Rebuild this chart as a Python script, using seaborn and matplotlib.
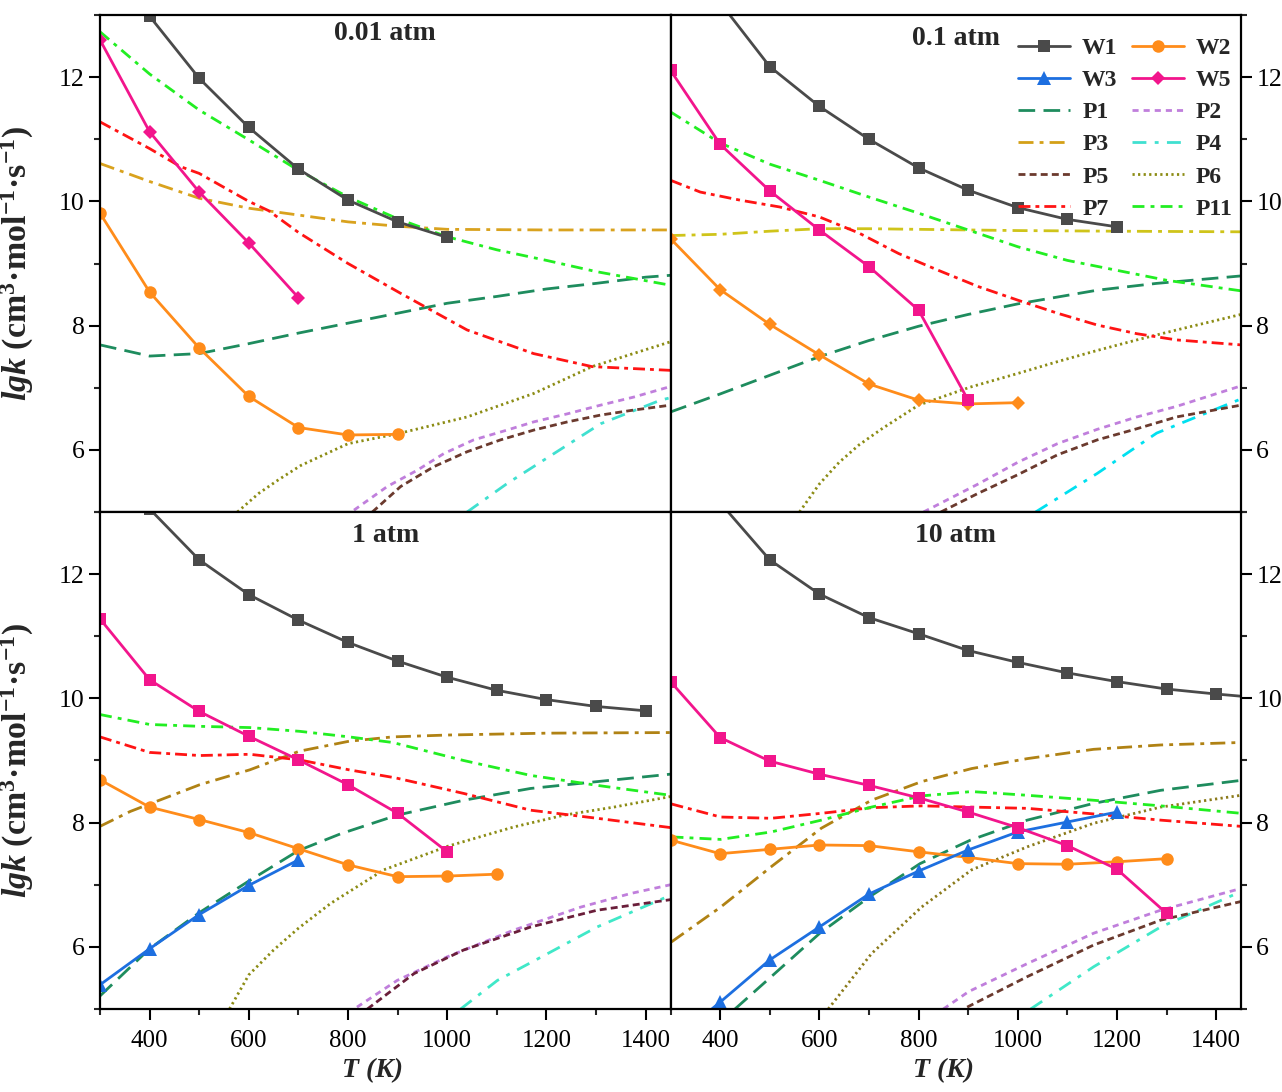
import matplotlib
matplotlib.use("Agg")
import matplotlib.pyplot as plt
import seaborn as sns
from matplotlib.lines import Line2D
from matplotlib.ticker import MultipleLocator

# ---------------- data: panel a (0.01 atm) ----------------
T_W1_a = [400, 500, 600, 700, 800, 900, 1000]
W1_a = [12.98, 11.98, 11.19, 10.52, 10.02, 9.67, 9.42]
T_W2_a = [300, 400, 500, 600, 700, 800, 900]
W2_a = [9.81, 8.54, 7.64, 6.86, 6.36, 6.24, 6.25]
T_W5_a = [300, 400, 500, 600, 700]
W5_a = [12.60, 11.12, 10.15, 9.33, 8.45]
T_P1_a = [300, 400, 500, 600, 700, 800, 900, 1000, 1100, 1200, 1300, 1400, 1450]
P1_a = [7.69, 7.51, 7.55, 7.71, 7.88, 8.04, 8.20, 8.36, 8.47, 8.59, 8.68, 8.78, 8.81]
T_P2_a = [812, 879, 939, 993, 1053, 1121, 1174, 1242, 1309, 1376, 1450]
P2_a = [5.03, 5.41, 5.67, 5.94, 6.16, 6.32, 6.45, 6.58, 6.72, 6.85, 7.02]
T_P3_a = [300, 400, 500, 600, 700, 800, 900, 1000, 1200, 1450]
P3_a = [10.61, 10.32, 10.05, 9.89, 9.78, 9.67, 9.60, 9.55, 9.54, 9.54]
T_P4_a = [1040, 1121, 1215, 1309, 1430, 1450]
P4_a = [5.0, 5.46, 5.94, 6.42, 6.80, 6.84]
T_P5_a = [849, 906, 973, 1040, 1107, 1175, 1242, 1309, 1375, 1450]
P5_a = [5.0, 5.41, 5.73, 5.97, 6.16, 6.32, 6.45, 6.56, 6.64, 6.72]
T_P6_a = [577, 620, 660, 705, 800, 900, 1040, 1175, 1292, 1450]
P6_a = [5.0, 5.3, 5.52, 5.75, 6.1, 6.26, 6.53, 6.91, 7.34, 7.74]
T_P7_a = [300, 400, 462, 500, 600, 640, 700, 800, 906, 1040, 1174, 1292, 1450]
P7_a = [11.28, 10.85, 10.56, 10.45, 10.0, 9.85, 9.5, 9.0, 8.52, 7.93, 7.55, 7.34, 7.28]
T_P11_a = [300, 400, 500, 600, 700, 800, 900, 1000, 1100, 1200, 1300, 1450]
P11_a = [12.73, 12.05, 11.47, 10.99, 10.5, 10.07, 9.72, 9.43, 9.22, 9.05, 8.87, 8.65]

# ---------------- data: panel b (0.1 atm) ----------------
T_W1_b = [400, 500, 600, 700, 800, 900, 1000, 1100, 1200]
W1_b = [13.2, 12.17, 11.53, 11.0, 10.54, 10.18, 9.90, 9.71, 9.59]
T_W2_b = [300, 400, 500, 600, 700, 800, 900, 1000]
W2_b = [9.40, 8.58, 8.02, 7.53, 7.06, 6.80, 6.74, 6.76]
T_W5_b = [300, 400, 500, 600, 700, 800, 900]
W5_b = [12.11, 10.92, 10.17, 9.54, 8.95, 8.25, 6.80]
T_P1_b = [300, 400, 500, 600, 700, 800, 900, 1000, 1160, 1280, 1450]
P1_b = [6.61, 6.90, 7.20, 7.50, 7.76, 7.99, 8.18, 8.35, 8.57, 8.68, 8.80]
T_P2_b = [810, 920, 1000, 1080, 1160, 1240, 1320, 1450]
P2_b = [5.0, 5.45, 5.8, 6.1, 6.33, 6.53, 6.7, 7.03]
T_P3_b = [300, 400, 500, 600, 700, 800, 1000, 1200, 1450]
P3_b = [9.45, 9.47, 9.52, 9.56, 9.56, 9.55, 9.53, 9.52, 9.51]
T_P4_b = [1036, 1160, 1280, 1450]
P4_b = [5.0, 5.62, 6.27, 6.82]
T_P5_b = [845, 920, 1000, 1080, 1160, 1240, 1320, 1450]
P5_b = [5.0, 5.3, 5.6, 5.92, 6.16, 6.34, 6.53, 6.72]
T_P6_b = [560, 600, 640, 680, 728, 800, 904, 1000, 1080, 1160, 1240, 1320, 1450]
P6_b = [5.0, 5.45, 5.8, 6.08, 6.35, 6.72, 7.01, 7.23, 7.42, 7.6, 7.77, 7.93, 8.18]
T_P7_b = [300, 360, 440, 520, 600, 680, 760, 840, 920, 1000, 1080, 1160, 1240, 1320, 1450]
P7_b = [10.34, 10.15, 10.02, 9.91, 9.75, 9.49, 9.16, 8.89, 8.63, 8.41, 8.20, 8.01, 7.87, 7.77, 7.69]
T_P11_b = [300, 400, 500, 600, 700, 800, 900, 1000, 1100, 1200, 1300, 1450]
P11_b = [11.44, 10.94, 10.6, 10.34, 10.07, 9.81, 9.54, 9.27, 9.05, 8.89, 8.73, 8.56]

# ---------------- data: panel c (1 atm) ----------------
T_W1_c = [400, 500, 600, 700, 800, 900, 1000, 1100, 1200, 1300, 1400]
W1_c = [13.05, 12.23, 11.67, 11.26, 10.90, 10.60, 10.34, 10.13, 9.98, 9.87, 9.80]
T_W2_c = [300, 400, 500, 600, 700, 800, 900, 1000, 1100]
W2_c = [8.69, 8.25, 8.05, 7.84, 7.58, 7.32, 7.13, 7.14, 7.17]
T_W3_c = [300, 400, 500, 600, 700]
W3_c = [5.39, 5.97, 6.52, 6.99, 7.40]
T_W5_c = [300, 400, 500, 600, 700, 800, 900, 1000]
W5_c = [11.28, 10.30, 9.79, 9.39, 9.01, 8.61, 8.15, 7.53]
T_P1_c = [300, 400, 500, 600, 700, 785, 899, 1033, 1168, 1302, 1450]
P1_c = [5.21, 5.97, 6.55, 7.06, 7.55, 7.82, 8.12, 8.36, 8.55, 8.66, 8.78]
T_P2_c = [818, 899, 1000, 1134, 1269, 1370, 1450]
P2_c = [5.03, 5.46, 5.84, 6.27, 6.64, 6.86, 7.0]
T_P3_c = [300, 361, 400, 501, 602, 702, 802, 890, 1000, 1200, 1450]
P3_c = [7.94, 8.18, 8.30, 8.61, 8.85, 9.15, 9.31, 9.38, 9.41, 9.44, 9.45]
T_P4_c = [1027, 1101, 1202, 1302, 1450]
P4_c = [5.0, 5.46, 5.89, 6.32, 6.83]
T_P5_c = [839, 933, 1033, 1168, 1302, 1450]
P5_c = [5.0, 5.57, 5.95, 6.32, 6.59, 6.76]
T_P6_c = [561, 600, 650, 700, 765, 872, 1001, 1134, 1235, 1336, 1450]
P6_c = [5.0, 5.55, 5.95, 6.3, 6.70, 7.24, 7.62, 7.93, 8.12, 8.25, 8.42]
T_P7_c = [300, 400, 501, 602, 702, 802, 896, 1033, 1168, 1302, 1450]
P7_c = [9.38, 9.13, 9.08, 9.10, 9.01, 8.85, 8.72, 8.47, 8.20, 8.07, 7.92]
T_P11_c = [300, 400, 501, 602, 702, 802, 890, 1033, 1168, 1302, 1450]
P11_c = [9.74, 9.58, 9.55, 9.53, 9.47, 9.38, 9.29, 9.0, 8.76, 8.60, 8.44]

# ---------------- data: panel d (10 atm) ----------------
T_W1_d = [400, 500, 600, 700, 800, 900, 1000, 1100, 1200, 1300, 1400, 1500]
W1_d = [13.15, 12.23, 11.68, 11.30, 11.04, 10.77, 10.58, 10.41, 10.27, 10.15, 10.07, 10.0]
T_W2_d = [300, 400, 500, 600, 700, 800, 900, 1000, 1100, 1200, 1300]
W2_d = [7.72, 7.50, 7.57, 7.64, 7.63, 7.53, 7.44, 7.34, 7.33, 7.37, 7.42]
T_W3_d = [300, 400, 500, 600, 700, 800, 900, 1000, 1100, 1200]
W3_d = [4.45, 5.11, 5.79, 6.32, 6.85, 7.22, 7.56, 7.85, 8.01, 8.17]
T_W5_d = [300, 400, 500, 600, 700, 800, 900, 1000, 1100, 1200, 1300]
W5_d = [10.27, 9.37, 8.99, 8.78, 8.60, 8.40, 8.17, 7.92, 7.63, 7.25, 6.54]
T_P1_d = [430, 503, 601, 702, 803, 905, 1019, 1153, 1288, 1450]
P1_d = [5.0, 5.52, 6.22, 6.81, 7.34, 7.72, 8.04, 8.31, 8.52, 8.68]
T_P2_d = [850, 901, 1019, 1153, 1288, 1450]
P2_d = [5.0, 5.28, 5.73, 6.22, 6.59, 6.94]
T_P3_d = [302, 401, 503, 604, 705, 806, 907, 1019, 1153, 1288, 1450]
P3_d = [6.08, 6.64, 7.29, 7.91, 8.36, 8.66, 8.87, 9.03, 9.18, 9.25, 9.29]
T_P4_d = [1026, 1153, 1288, 1450]
P4_d = [5.0, 5.68, 6.32, 6.89]
T_P5_d = [898, 1019, 1153, 1288, 1450]
P5_d = [5.03, 5.52, 6.03, 6.43, 6.73]
T_P6_d = [618, 705, 806, 907, 1019, 1153, 1288, 1450]
P6_d = [5.0, 5.89, 6.64, 7.24, 7.61, 7.99, 8.25, 8.44]
T_P7_d = [302, 401, 503, 604, 705, 806, 907, 1019, 1153, 1288, 1450]
P7_d = [8.30, 8.09, 8.07, 8.15, 8.24, 8.27, 8.25, 8.23, 8.14, 8.04, 7.94]
T_P11_d = [302, 401, 503, 604, 705, 806, 907, 1019, 1153, 1288, 1450]
P11_d = [7.77, 7.73, 7.85, 8.04, 8.25, 8.43, 8.50, 8.44, 8.36, 8.27, 8.15]

panel_titles = ["0.01 atm", "0.1 atm", "1 atm", "10 atm"]
legend_labels = ["W1", "W3", "P1", "P3", "P5", "P7", "W2", "W5", "P2", "P4", "P6", "P11"]

# ---------------- style ----------------
sns.set_theme(style="ticks")
plt.rcParams['font.family'] = ['Liberation Serif', 'DejaVu Serif']
plt.rcParams['mathtext.fontset'] = 'custom'
plt.rcParams['mathtext.rm'] = 'Liberation Serif:bold'
plt.rcParams['mathtext.it'] = 'Liberation Serif:italic:bold'
plt.rcParams['mathtext.bf'] = 'Liberation Serif:bold'

C_W1, C_W2, C_W3, C_W5 = "#4a4a4a", "#ff8c1a", "#1d6fe0", "#f2158c"
C_P1, C_P2, C_P7, C_P11 = "#1e8c5e", "#c07fdc", "#ff1414", "#22ee22"
LS = {
    "P1": (0, (6, 3)),
    "P2": (0, (2.2, 1.8)),
    "P3": (0, (5.4, 2.2, 1.4, 2.2)),
    "P4": (0, (5, 3, 1.4, 3)),
    "P5": (0, (2.5, 1.5)),
    "P6": (0, (0.8, 1.2)),
    "P7": (0, (4.3, 1.8, 1.4, 1.8)),
    "P11": (0, (4.3, 2.2, 1.4, 2.2)),
}
LW = 2.0

fig = plt.figure(figsize=(12.82, 10.92), dpi=100)
axes = fig.subplots(2, 2, sharex=True, sharey=True)
fig.subplots_adjust(left=100 / 1282, right=1241 / 1282, top=1 - 15 / 1092,
                    bottom=1 - 1009 / 1092, wspace=0, hspace=0)


def line(ax, x, y, color, ls="-", marker=None, ms=8):
    sns.lineplot(x=x, y=y, ax=ax, color=color, linewidth=LW, linestyle=ls,
                 marker=marker, markersize=ms, markeredgewidth=0,
                 markeredgecolor=color, estimator=None, errorbar=None,
                 legend=False)


panels = [
    dict(P=[(T_P1_a, P1_a), (T_P2_a, P2_a), (T_P3_a, P3_a), (T_P4_a, P4_a),
            (T_P5_a, P5_a), (T_P6_a, P6_a), (T_P7_a, P7_a), (T_P11_a, P11_a)],
         cols=[C_P1, C_P2, "#d9a21e", "#40e0d0", "#6b3a2e", "#8c8c14", C_P7, C_P11],
         W=[(T_W1_a, W1_a, C_W1, "s", 8), (T_W2_a, W2_a, C_W2, "o", 9),
            (T_W5_a, W5_a, C_W5, "D", 7.5)]),
    dict(P=[(T_P1_b, P1_b), (T_P2_b, P2_b), (T_P3_b, P3_b), (T_P4_b, P4_b),
            (T_P5_b, P5_b), (T_P6_b, P6_b), (T_P7_b, P7_b), (T_P11_b, P11_b)],
         cols=[C_P1, C_P2, "#cfc41a", "#00e0f0", "#6b3a2e", "#8c8c14", C_P7, C_P11],
         W=[(T_W1_b, W1_b, C_W1, "s", 8), (T_W2_b, W2_b, C_W2, "D", 7.5),
            (T_W5_b, W5_b, C_W5, "s", 8.5)]),
    dict(P=[(T_P1_c, P1_c), (T_P2_c, P2_c), (T_P3_c, P3_c), (T_P4_c, P4_c),
            (T_P5_c, P5_c), (T_P6_c, P6_c), (T_P7_c, P7_c), (T_P11_c, P11_c)],
         cols=[C_P1, C_P2, "#b08214", "#40e8c8", "#6a1e3a", "#8c8c14", C_P7, C_P11],
         W=[(T_W1_c, W1_c, C_W1, "s", 8), (T_W2_c, W2_c, C_W2, "o", 9),
            (T_W3_c, W3_c, C_W3, "^", 10), (T_W5_c, W5_c, C_W5, "s", 8.5)]),
    dict(P=[(T_P1_d, P1_d), (T_P2_d, P2_d), (T_P3_d, P3_d), (T_P4_d, P4_d),
            (T_P5_d, P5_d), (T_P6_d, P6_d), (T_P7_d, P7_d), (T_P11_d, P11_d)],
         cols=[C_P1, C_P2, "#b08214", "#40e8c8", "#6b3a2e", "#8b7a1a", C_P7, C_P11],
         W=[(T_W1_d, W1_d, C_W1, "s", 8), (T_W2_d, W2_d, C_W2, "o", 9),
            (T_W3_d, W3_d, C_W3, "^", 10), (T_W5_d, W5_d, C_W5, "s", 8.5)]),
]
pkeys = ["P1", "P2", "P3", "P4", "P5", "P6", "P7", "P11"]

ylab = r"$\mathit{lgk}$ (cm$^{3}$·mol$^{-1}$·s$^{-1}$)"

for i, ax in enumerate(axes.flat):
    spec = panels[i]
    for (x, y), c, k in zip(spec["P"], spec["cols"], pkeys):
        line(ax, x, y, c, LS[k])
    for x, y, c, m, ms in spec["W"]:
        line(ax, x, y, c, "-", m, ms)

    ax.set_xlim(300, 1450)
    ax.set_ylim(5, 13)
    ax.xaxis.set_major_locator(MultipleLocator(200))
    ax.xaxis.set_minor_locator(MultipleLocator(100))
    ax.yaxis.set_major_locator(MultipleLocator(2))
    ax.yaxis.set_minor_locator(MultipleLocator(1))
    for s in ax.spines.values():
        s.set_visible(True)
        s.set_linewidth(1.6)
        s.set_color("black")
    ax.tick_params(which="major", length=8, width=1.5, direction="out",
                   colors="black")
    ax.tick_params(which="minor", length=4, width=1.5, direction="out")
    ax.tick_params(axis="y", pad=3, labelsize=18.5)
    ax.tick_params(axis="x", pad=7, labelsize=18)
    row, col = divmod(i, 2)
    if col == 0:
        ax.tick_params(axis="y", which="both", left=True, right=False,
                       labelleft=True, labelright=False)
        ax.set_ylabel(ylab, fontsize=24.5, fontweight="bold")
        ax.yaxis.set_label_coords(-0.112, 0.5)
    else:
        ax.tick_params(axis="y", which="both", left=False, right=True,
                       labelleft=False, labelright=True)
        ax.set_ylabel("")
    if row == 0:
        ax.tick_params(axis="x", which="both", bottom=False, labelbottom=False)
        ax.set_xlabel("")
    else:
        ax.tick_params(axis="x", which="both", bottom=True, labelbottom=True)
        ax.set_xlabel("T (K)", fontsize=20, fontweight="bold", style="italic")
        ax.xaxis.set_label_coords(0.478, -0.098)
    ty = 0.962 if i == 0 else 0.952
    ax.text(0.5, ty, panel_titles[i], transform=ax.transAxes, ha="center",
            va="center", fontsize=20, fontweight="bold")

# legend in 0.1 atm panel
hstyle = {
    "W1": dict(color=C_W1, ls="-", marker="s", ms=8),
    "W2": dict(color=C_W2, ls="-", marker="o", ms=9),
    "W3": dict(color=C_W3, ls="-", marker="^", ms=10),
    "W5": dict(color=C_W5, ls="-", marker="D", ms=7.5),
    "P1": dict(color=C_P1, ls=LS["P1"]),
    "P2": dict(color=C_P2, ls=LS["P2"]),
    "P3": dict(color="#d4a017", ls=LS["P3"]),
    "P4": dict(color="#40e0d0", ls=LS["P4"]),
    "P5": dict(color="#6b3a2e", ls=LS["P5"]),
    "P6": dict(color="#8c8c14", ls=LS["P6"]),
    "P7": dict(color=C_P7, ls=LS["P7"]),
    "P11": dict(color=C_P11, ls=LS["P11"]),
}
handles = []
for lab in legend_labels:
    st = hstyle[lab]
    handles.append(Line2D([], [], color=st["color"], linestyle=st["ls"], lw=LW,
                          marker=st.get("marker"), markersize=st.get("ms", 0),
                          markeredgewidth=0))
axes[0, 1].legend(handles, legend_labels, ncol=2, loc="upper right",
                  bbox_to_anchor=(0.985, 0.955), frameon=False,
                  prop={"weight": "bold", "size": 17}, handlelength=2.2,
                  handletextpad=0.5, columnspacing=0.6, labelspacing=0.45,
                  borderpad=0, borderaxespad=0)

fig.savefig("out.png", dpi=100)
